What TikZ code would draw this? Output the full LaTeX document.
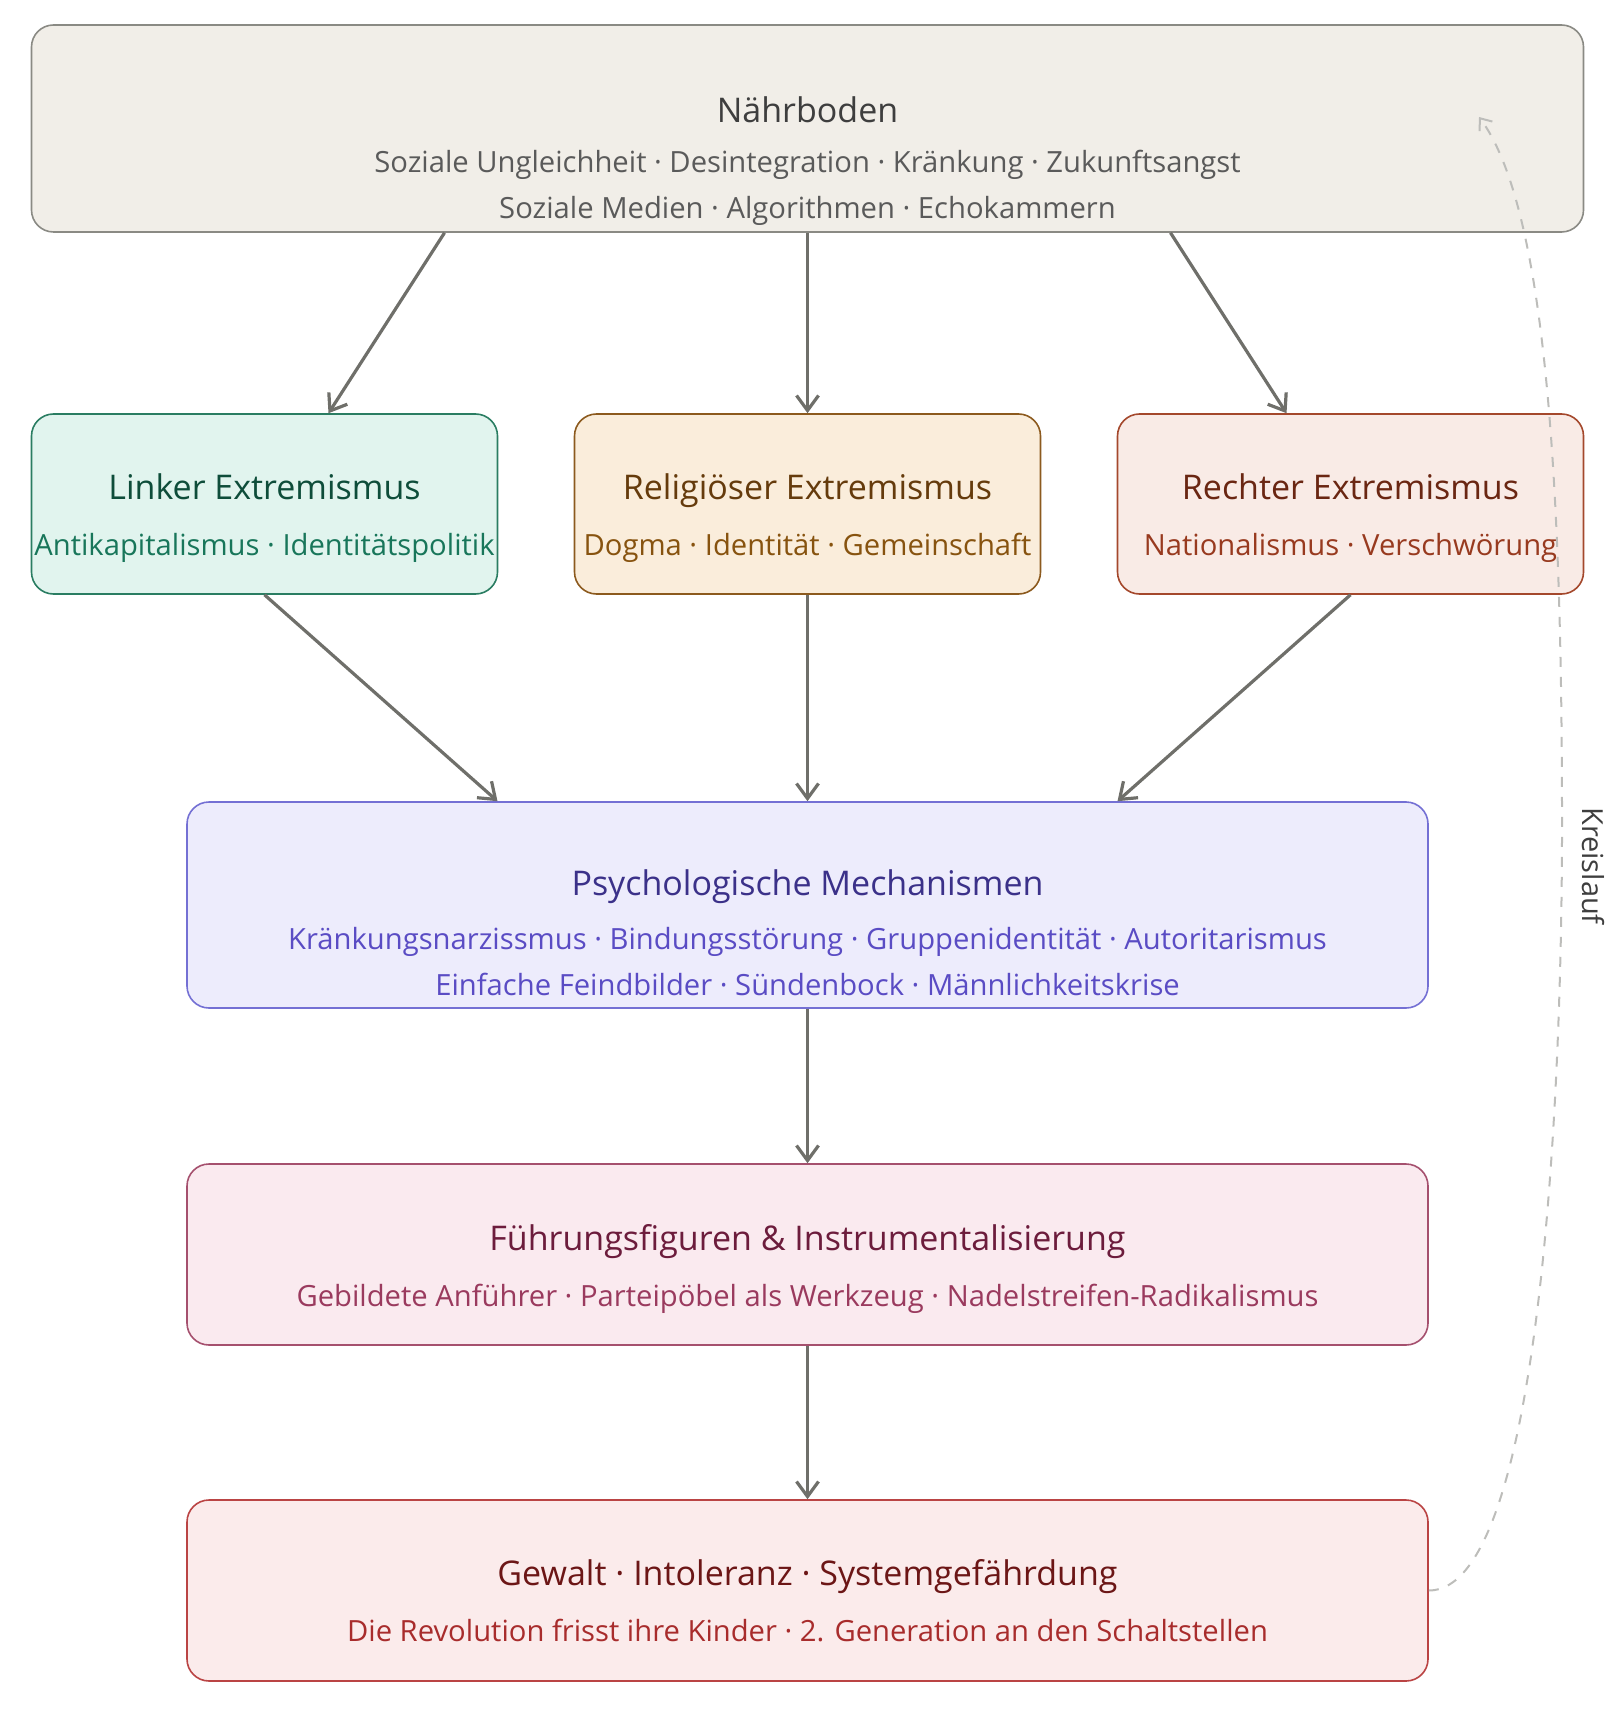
\documentclass[tikz,border=0pt]{standalone}
\usepackage{fontspec}
\setmainfont{Open Sans}
\usepackage{tikz}
\usetikzlibrary{arrows.meta,positioning,calc}

\definecolor{bodenfill}{HTML}{F1EEE8}
\definecolor{bodenline}{HTML}{8A8A84}
\definecolor{bodentitle}{HTML}{3E3E3E}
\definecolor{bodensub}{HTML}{5A5A5A}
\definecolor{linksfill}{HTML}{E1F4EE}
\definecolor{linksline}{HTML}{2A7D62}
\definecolor{linkstitle}{HTML}{0E4D3A}
\definecolor{linkssub}{HTML}{18765A}
\definecolor{religfill}{HTML}{FAEDDB}
\definecolor{religline}{HTML}{8C5A1E}
\definecolor{religtitle}{HTML}{653B0C}
\definecolor{religsub}{HTML}{87530F}
\definecolor{rechtsfill}{HTML}{F9EBE6}
\definecolor{rechtsline}{HTML}{A4482C}
\definecolor{rechtstitle}{HTML}{6A2612}
\definecolor{rechtssub}{HTML}{983A1F}
\definecolor{psychfill}{HTML}{EDECFC}
\definecolor{psychline}{HTML}{7470D4}
\definecolor{psychtitle}{HTML}{3B3189}
\definecolor{psychsub}{HTML}{5A4CC4}
\definecolor{fuehrfill}{HTML}{FAEAEF}
\definecolor{fuehrline}{HTML}{A5506E}
\definecolor{fuehrtitle}{HTML}{6C1C3C}
\definecolor{fuehrsub}{HTML}{9A3A5E}
\definecolor{gewaltfill}{HTML}{FBEBEB}
\definecolor{gewaltline}{HTML}{BA4444}
\definecolor{gewalttitle}{HTML}{6C1616}
\definecolor{gewaltsub}{HTML}{A82C2C}
\definecolor{pfeilgrau}{HTML}{6F6F6A}
\definecolor{kreisgrau}{HTML}{BDBDBA}

% title line of a box, optional strut pushes the text block down
\newcommand{\titel}[3][13pt]{{\fontsize{17}{20}\selectfont\color{#2}\rule{0pt}{\dimexpr14pt+#1\relax}#3}}

\begin{document}
\begin{tikzpicture}[
  node distance=90.2pt,
  box/.style={rectangle, rounded corners=11pt, draw, line width=0.8pt,
    align=center, inner sep=0pt, font=\fontsize{14.6}{23}\selectfont},
  smallbox/.style={box, minimum width=233pt, minimum height=90pt},
  widebox/.style={box, minimum width=620.5pt, minimum height=90.5pt},
  arrow/.style={->, >={Straight Barb[length=7.5pt, width=11pt]},
    line width=1.6pt, draw=pfeilgrau},
  loop/.style={->, >={Straight Barb[length=5pt, width=8pt]},
    line width=1pt, draw=kreisgrau, dash pattern=on 5pt off 5pt}]
  \useasboundingbox (0,0) rectangle (811.5pt,-866pt);

  \node[box, minimum width=776pt, minimum height=103.5pt, fill=bodenfill,
    draw=bodenline, text=bodensub] (boden) at (403.75pt,-64.25pt)
    {\titel[32pt]{bodentitle}{Nährboden}\\[2pt]
     Soziale Ungleichheit · Desintegration · Kränkung · Zukunftsangst\\
     Soziale Medien · Algorithmen · Echokammern};

  \node[smallbox, below=of boden.south west, anchor=north west,
    fill=linksfill, draw=linksline, text=linkssub] (links)
    {\titel{linkstitle}{Linker Extremismus}\\[5pt]
     Antikapitalismus · Identitätspolitik};
  \node[smallbox, below=of boden, fill=religfill, draw=religline,
    text=religsub] (relig)
    {\titel{religtitle}{Religiöser Extremismus}\\[5pt]
     Dogma · Identität · Gemeinschaft};
  \node[smallbox, below=of boden.south east, anchor=north east,
    fill=rechtsfill, draw=rechtsline, text=rechtssub] (rechts)
    {\titel{rechtstitle}{Rechter Extremismus}\\[5pt]
     Nationalismus · Verschwörung};

  \node[widebox, minimum height=103pt, below=103.2pt of relig, fill=psychfill,
    draw=psychline, text=psychsub] (psych)
    {\titel[26.5pt]{psychtitle}{Psychologische Mechanismen}\\[3.8pt]
     Kränkungsnarzissmus · Bindungsstörung · Gruppenidentität · Autoritarismus\\
     Einfache Feindbilder · Sündenbock · Männlichkeitskrise};

  \node[widebox, below=77.2pt of psych, fill=fuehrfill, draw=fuehrline,
    text=fuehrsub] (fuehr)
    {\titel{fuehrtitle}{Führungsfiguren \& Instrumentalisierung}\\[5pt]
     Gebildete Anführer · Parteipöbel als Werkzeug · Nadelstreifen-Radikalismus};

  \node[widebox, below=76.7pt of fuehr, fill=gewaltfill, draw=gewaltline,
    text=gewaltsub] (gewalt)
    {\titel[9pt]{gewalttitle}{Gewalt · Intoleranz · Systemgefährdung}\\[5pt]
     Die Revolution frisst ihre Kinder · 2. Generation an den Schaltstellen};

  \draw[arrow] ([xshift=-181.5pt]boden.south) -- ([xshift=32pt]links.north);
  \draw[arrow] (boden) -- (relig);
  \draw[arrow] ([xshift=181.5pt]boden.south) -- ([xshift=-32pt]rechts.north);
  \draw[arrow] (links.south) -- ([xshift=-155pt]psych.north);
  \draw[arrow] (relig) -- (psych);
  \draw[arrow] (rechts.south) -- ([xshift=155pt]psych.north);
  \draw[arrow] (psych) -- (fuehr);
  \draw[arrow] (fuehr) -- (gewalt);

  % feedback loop back to the top
  \coordinate (kreisende) at (739.5pt,-58.5pt);
  \node[rotate=-90, text=bodentitle, font=\fontsize{14.5}{17}\selectfont]
    (kreis) at (796.75pt,-433pt) {Kreislauf};
  \draw[loop] (gewalt.east) .. controls (770pt,-795.5pt) and (781pt,-550pt)
    .. (781pt,-413pt) .. controls (781pt,-250pt) and (774pt,-105pt) .. (kreisende);
\end{tikzpicture}
\end{document}
